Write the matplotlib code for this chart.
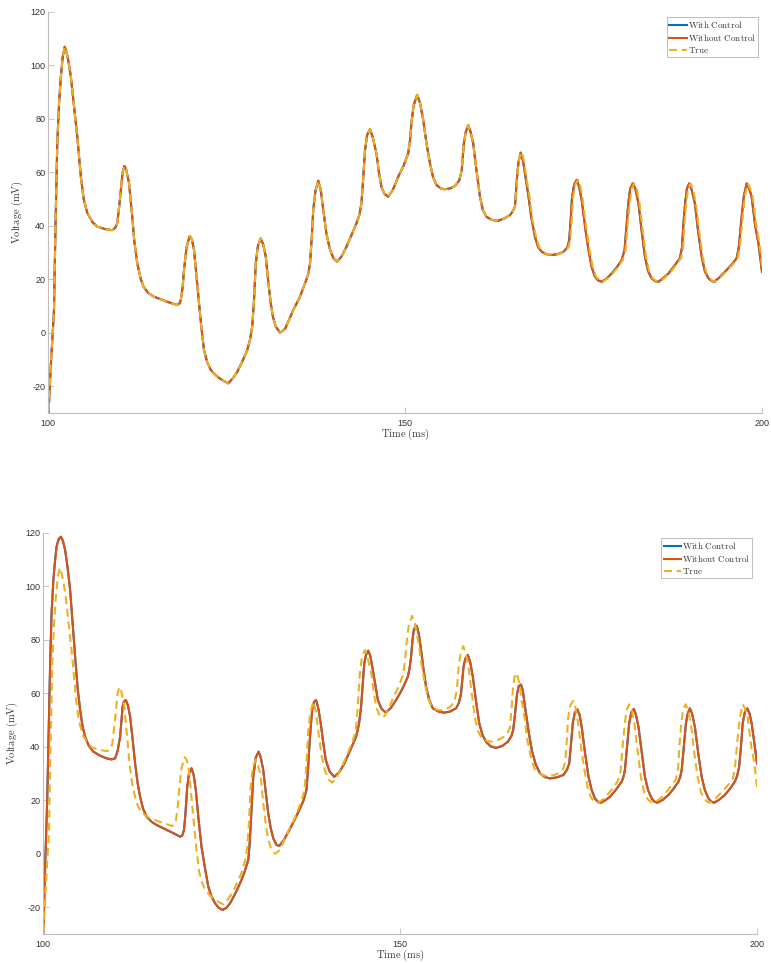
"""
Voltage traces: model with / without control against the true signal.
Two stacked panels, MATLAB-like look.
"""

import matplotlib
matplotlib.use('Agg')  # no display
import matplotlib.pyplot as plt

plt.rcParams['mathtext.fontset'] = 'cm'
plt.rcParams['font.family'] = ['Liberation Sans', 'DejaVu Sans']
plt.rcParams['axes.unicode_minus'] = False  # plain hyphen like MATLAB

# ---------------------------------------------------------------------------
# Data, time in ms, voltage in mV
# ---------------------------------------------------------------------------

# part shared by the true trace and the top-panel model (they coincide here)
early_t = [100.0, 100.4, 100.84, 101.05, 101.3, 101.55, 101.8, 102.05, 102.33, 102.6,
           102.9, 103.2, 103.6, 104.1, 104.6, 105.0, 105.5, 106.2, 106.9, 108.0,
           109.0, 109.4, 109.7, 110.0, 110.2, 110.45, 110.7, 110.95, 111.35, 111.8,
           112.1, 112.5, 113.0, 113.4, 114.0, 114.85, 116.7, 118.1, 118.4, 118.6,
           118.85, 119.05, 119.4, 119.85, 120.15, 120.45, 120.8, 121.15, 121.5, 121.85,
           122.3, 122.8, 123.4, 123.95, 124.6, 125.25, 125.9, 126.5, 127.2, 127.9,
           128.3, 128.6, 128.85, 129.1, 129.4, 129.8, 130.15, 130.5, 130.85, 131.2,
           131.5, 131.9, 132.5, 133.2, 134.35, 135.2, 136.0, 136.45, 136.7, 136.95,
           137.15, 137.45, 137.85, 138.2, 138.55, 139.0, 139.5, 140.0, 140.5, 141.1,
           141.8, 142.5, 143.2, 143.6, 143.9, 144.15, 144.4, 144.7, 145.1, 145.5,
           146.0, 146.35, 146.7, 147.1, 147.65, 148.3, 149.05, 149.8, 150.45, 150.7,
           150.9, 151.2, 151.7, 152.1, 152.55, 153.0, 153.5, 153.9, 154.4, 155.0,
           155.6, 156.3, 157.0, 157.6, 157.95, 158.25, 158.5, 158.85, 159.15, 159.55,
           160.0, 160.5, 160.9, 161.4, 162.2, 163.05, 163.9, 164.7, 165.1, 165.4]
early_v = [-34, -12, 8.5, 40, 71, 86, 95.8, 103, 107, 105,
           101, 95.8, 86, 73.4, 58.4, 50, 44.8, 41.5, 39.7, 38.8,
           38.4, 39.2, 41, 48, 53.4, 60, 62.4, 61, 56, 43.4,
           34, 26, 20, 17.2, 15, 13.5, 11.6, 10.4, 10.9, 12.3,
           17, 23.5, 32, 36.2, 35, 31, 21, 11.1, 1.5, -6.5,
           -11, -13.9, -15.6, -16.9, -18, -18.9, -17, -14.6, -10.8, -6.5,
           -2.5, 2.3, 12, 26, 32.5, 35.3, 33, 28.5, 19, 11,
           6, 2.3, 0, 1.5, 8.5, 13, 18.5, 22, 26, 36,
           46, 53, 56.9, 53.5, 46, 37, 31, 27.8, 26.6, 28.5,
           32.2, 36.5, 41, 44, 48.4, 58, 68.4, 74, 76.2, 73,
           67.1, 60, 54.6, 52, 50.9, 53.5, 58.4, 62.5, 67.1, 72,
           78.4, 85, 89, 86, 79.6, 71, 63.4, 58.5, 55.3, 54,
           53.7, 54, 54.9, 57, 60.9, 70.9, 75, 77.7, 75.5, 70.9,
           61, 50.9, 46, 43.4, 42.2, 41.9, 42.8, 44, 45.5, 47.2]

# true trace after 165 ms (lags the model slightly)
true_late_t = [165.65, 165.85, 166.05, 166.35, 166.7, 167.0, 167.45, 167.8, 168.35, 168.8,
               169.3, 170.0, 170.7, 171.5, 172.35, 172.9, 173.15, 173.35, 173.55, 173.85,
               174.25, 174.55, 174.9, 175.4, 175.85, 176.3, 176.75, 177.2, 177.7, 178.4,
               179.1, 179.8, 180.5, 180.9, 181.2, 181.5, 181.75, 182.1, 182.45, 182.85,
               183.3, 183.75, 184.2, 184.7, 185.2, 185.65, 186.3, 187.05, 187.8, 188.65,
               188.95, 189.15, 189.4, 189.65, 190.0, 190.35, 190.75, 191.2, 191.7, 192.15,
               192.65, 193.1, 193.45, 194.1, 194.95, 195.8, 196.6, 196.9, 197.3, 197.6,
               198.0, 198.35, 198.7, 199.2, 199.65, 200.0]
true_late_v = [55, 63, 66, 67.6, 64, 58, 50.9, 43, 35.9, 32,
               30.3, 29.4, 29.1, 29.4, 30.3, 32, 34.7, 42, 50.9, 55.5,
               57.2, 55, 49.7, 39, 31, 24.5, 21, 19.6, 19.1, 20.3,
               22.2, 24.5, 27.2, 31, 41, 49, 54, 55.9, 54, 48.4,
               38, 28.5, 23, 20.4, 19.3, 19.1, 20.4, 22.2, 24.8, 27.9,
               32, 41, 49, 54, 55.9, 53.5, 48.4, 38, 28.5, 23,
               20.4, 19.4, 19.1, 20.5, 22.8, 25.2, 27.9, 32, 43.4, 51,
               55.9, 54, 50.9, 40, 33.5, 25]

# top-panel model after 165 ms
top_late_t = [165.65, 165.9, 166.2, 166.55, 166.9, 167.3, 167.7, 168.2, 168.65, 169.15,
              169.85, 170.55, 171.35, 172.2, 172.75, 173.0, 173.2, 173.4, 173.7, 174.05,
              174.35, 174.75, 175.25, 175.7, 176.15, 176.6, 177.05, 177.55, 178.25, 178.95,
              179.65, 180.35, 180.75, 181.05, 181.3, 181.55, 181.9, 182.25, 182.7, 183.15,
              183.6, 184.05, 184.55, 185.05, 185.5, 186.15, 186.9, 187.65, 188.5, 188.8,
              189.0, 189.25, 189.5, 189.8, 190.15, 190.6, 191.05, 191.55, 192.0, 192.5,
              192.95, 193.3, 193.95, 194.8, 195.65, 196.45, 196.75, 197.15, 197.45, 197.85,
              198.2, 198.55, 199.05, 199.5, 200.0]
top_late_v = [57, 64, 67.4, 64, 58, 50.9, 43, 35.9, 32, 30.3,
              29.4, 29.1, 29.4, 30.3, 32, 34.7, 42, 50.9, 55.5, 57.2,
              55, 49.7, 39, 31, 24.5, 21, 19.6, 19.1, 20.3, 22.2,
              24.5, 27.2, 31, 41, 49, 54, 55.9, 54, 48.4, 38,
              28.5, 23, 20.4, 19.3, 19.1, 20.4, 22.2, 24.8, 27.9, 32,
              41, 49, 54, 55.9, 53.5, 48.4, 38, 28.5, 23, 20.4,
              19.4, 19.1, 20.5, 22.8, 25.2, 27.9, 32, 43.4, 51, 55.9,
              54, 50.9, 40, 33.5, 22.8]

true_t = early_t + true_late_t
true_v = early_v + true_late_v
top_t = early_t + top_late_t
top_v = early_v + top_late_v

# bottom-panel model (with and without control coincide)
bottom_t = [100.0, 100.3, 100.6, 101.0, 101.2, 101.45, 101.7, 101.9, 102.2, 102.5,
            102.8, 103.1, 103.45, 103.8, 104.15, 104.5, 104.85, 105.2, 105.55, 105.9,
            106.4, 107.05, 108.0, 108.9, 109.6, 110.1, 110.45, 110.8, 111.15, 111.35,
            111.6, 111.9, 112.2, 112.55, 112.9, 113.25, 113.6, 114.0, 114.5, 115.2,
            115.9, 116.9, 117.8, 118.5, 119.2, 119.5, 119.75, 119.95, 120.2, 120.45,
            120.8, 121.1, 121.4, 121.8, 122.2, 122.7, 123.15, 123.6, 124.1, 124.6,
            125.15, 125.7, 126.2, 126.9, 127.6, 128.2, 128.75, 128.95, 129.1, 129.45,
            129.8, 130.2, 130.5, 130.85, 131.2, 131.55, 131.9, 132.25, 132.7, 133.1,
            133.7, 134.5, 135.2, 135.9, 136.5, 136.9, 137.1, 137.3, 137.5, 137.7,
            137.95, 138.25, 138.55, 138.9, 139.25, 139.6, 140.15, 140.8, 141.5, 142.2,
            143.0, 143.85, 144.25, 144.55, 144.8, 145.0, 145.25, 145.55, 145.85, 146.2,
            146.55, 146.9, 147.4, 148.0, 148.7, 149.45, 150.3, 151.1, 151.35, 151.55,
            151.75, 151.95, 152.35, 152.65, 152.95, 153.3, 153.65, 154.1, 154.6, 155.4,
            156.2, 157.0, 157.85, 158.25, 158.55, 158.9, 159.15, 159.5, 159.85, 160.2,
            160.65, 161.1, 161.55, 162.05, 162.7, 163.45, 164.3, 165.1, 165.6, 165.85,
            166.1, 166.4, 166.65, 166.95, 167.2, 167.5, 168.0, 168.45, 169.0, 169.6,
            170.3, 171.0, 172.0, 172.9, 173.4, 173.7, 173.95, 174.2, 174.5, 174.85,
            175.15, 175.45, 175.9, 176.4, 176.85, 177.3, 177.7, 178.1, 178.7, 179.4,
            180.2, 181.05, 181.3, 181.5, 181.8, 182.1, 182.4, 182.75, 183.05, 183.4,
            183.85, 184.3, 184.75, 185.25, 185.65, 186.05, 186.8, 187.6, 188.3, 189.0,
            189.25, 189.45, 189.75, 190.05, 190.3, 190.6, 190.9, 191.3, 191.75, 192.25,
            192.7, 193.2, 193.6, 194.0, 194.7, 195.5, 196.2, 196.9, 197.2, 197.5,
            197.75, 198.0, 198.3, 198.65, 198.95, 199.25, 199.6, 200.0]
bottom_v = [-34, -5, 21.3, 71.3, 90, 102.4, 110, 114.9, 117.8, 118.6,
            117, 113.6, 107, 98.7, 86, 73.7, 62, 53.8, 47.5, 43.8,
            40.5, 38.2, 36.7, 35.7, 35.3, 35.7, 38.5, 43.8, 55, 57,
            57.5, 55.5, 51.3, 43, 33.8, 26.5, 21.3, 17, 13.9, 12,
            10.8, 9.5, 8.3, 7.4, 6.4, 6.8, 8.9, 15, 25.1, 30,
            32, 29.5, 23.9, 12.5, 2.6, -5.5, -12.3, -16, -18.5, -20.2,
            -21, -20.2, -18.5, -15, -11, -7, -2.3, 4, 11.4, 28.8,
            36, 38.2, 36, 31.3, 23, 15.1, 9.5, 5.8, 3.3, 3.0,
            5, 8.9, 12.5, 16.4, 20, 23.9, 31, 40, 47.5, 53.8,
            56.8, 57.5, 54.5, 48.8, 41.5, 35.1, 30.7, 28.8, 30.5, 33.8,
            38.5, 43.8, 48.5, 55, 64, 71.3, 74.5, 76, 74, 68.7,
            63, 57.5, 54.3, 52.8, 54.5, 57.5, 61.5, 66.2, 69.5, 73.7,
            80, 84, 85.3, 82, 76.2, 69, 62.5, 57.5, 54.4, 53.2,
            52.8, 53.2, 54.4, 56.5, 60, 70, 73, 74.4, 71.5, 66.2,
            57, 48.8, 44.5, 41.9, 40.2, 39.6, 40.3, 41.9, 44, 46.3,
            52, 60, 62.8, 63.3, 61, 55.2, 46, 38.8, 33.5, 30.1,
            28.7, 28.2, 28.6, 29.5, 31.5, 33.8, 41, 48.8, 53, 54,
            52, 47.5, 38, 28.8, 23.8, 20.7, 19.5, 19.1, 19.9, 21.3,
            23.8, 27, 28.8, 31.3, 40, 48.8, 53, 54.2, 52, 47.5,
            38, 28.8, 23.8, 20.7, 19.5, 19.1, 20.2, 22, 24.3, 27,
            28.8, 31.3, 40, 48.8, 52.5, 54.4, 52.5, 47.5, 38, 28.8,
            23.8, 20.7, 19.5, 19.1, 20.2, 22, 24.3, 27, 29, 32.6,
            40, 48.8, 53, 54.4, 52.5, 48.8, 42, 33.8]

labels = [r'$\mathrm{With\ Control}$', r'$\mathrm{Without\ Control}$', r'$\mathrm{True}$']

# MATLAB default colours
BLUE = '#0072BD'
ORANGE = '#D95319'
YELLOW = '#EDB120'
AXIS_GRAY = '#bdbdbd'
TEXT_GRAY = '#333333'


def draw_panel(ax, with_t, with_v, without_t, without_v, legend_anchor):
    """One panel: three traces, MATLAB-ish axes without box."""
    ax.plot(with_t, with_v, color=BLUE, linewidth=1.5, label=labels[0])
    ax.plot(without_t, without_v, color=ORANGE, linewidth=1.5, label=labels[1])
    ax.plot(true_t, true_v, color=YELLOW, linewidth=1.5,
            linestyle=(0, (3.8, 2.3)), label=labels[2])

    ax.set_xlim(100, 200)
    ax.set_ylim(-30, 120)
    ax.set_xticks([100, 150, 200])
    ax.set_yticks(range(-20, 121, 20))

    # only left/bottom axis lines, light gray, ticks pointing in
    for side in ('top', 'right'):
        ax.spines[side].set_visible(False)
    for side in ('left', 'bottom'):
        ax.spines[side].set_color(AXIS_GRAY)
        ax.spines[side].set_linewidth(0.8)
    ax.tick_params(direction='in', length=4.5, width=0.6, color=AXIS_GRAY,
                   labelcolor=TEXT_GRAY, labelsize=6.5)
    ax.tick_params(axis='y', pad=2)
    ax.tick_params(axis='x', pad=4)

    ax.set_xlabel(r'$\mathrm{Time\ (ms)}$', fontsize=7.5, color=TEXT_GRAY, labelpad=-0.5)
    ax.set_ylabel(r'$\mathrm{Voltage\ (mV)}$', fontsize=7.5, color=TEXT_GRAY, labelpad=4)

    leg = ax.legend(loc='upper right', bbox_to_anchor=legend_anchor, borderaxespad=0,
                    fontsize=6.5, handlelength=1.9, handletextpad=0.15,
                    borderpad=0.25, labelspacing=0.2, fancybox=False,
                    framealpha=1, edgecolor=AXIS_GRAY)
    leg.get_frame().set_linewidth(0.7)
    for txt in leg.get_texts():
        txt.set_color(TEXT_GRAY)


fig = plt.figure(figsize=(7.71, 9.63), dpi=100)

W, H = 771.0, 963.0
ax_top = fig.add_axes([48 / W, 1 - 413 / H, 714 / W, 401 / H])
ax_bot = fig.add_axes([43 / W, 1 - 934 / H, 714 / W, 401 / H])

draw_panel(ax_top, top_t, top_v, top_t, top_v, (0.9944, 0.988))
draw_panel(ax_bot, bottom_t, bottom_v, bottom_t, bottom_v, (0.9934, 0.987))

fig.savefig('out.png', dpi=100)
plt.close(fig)
